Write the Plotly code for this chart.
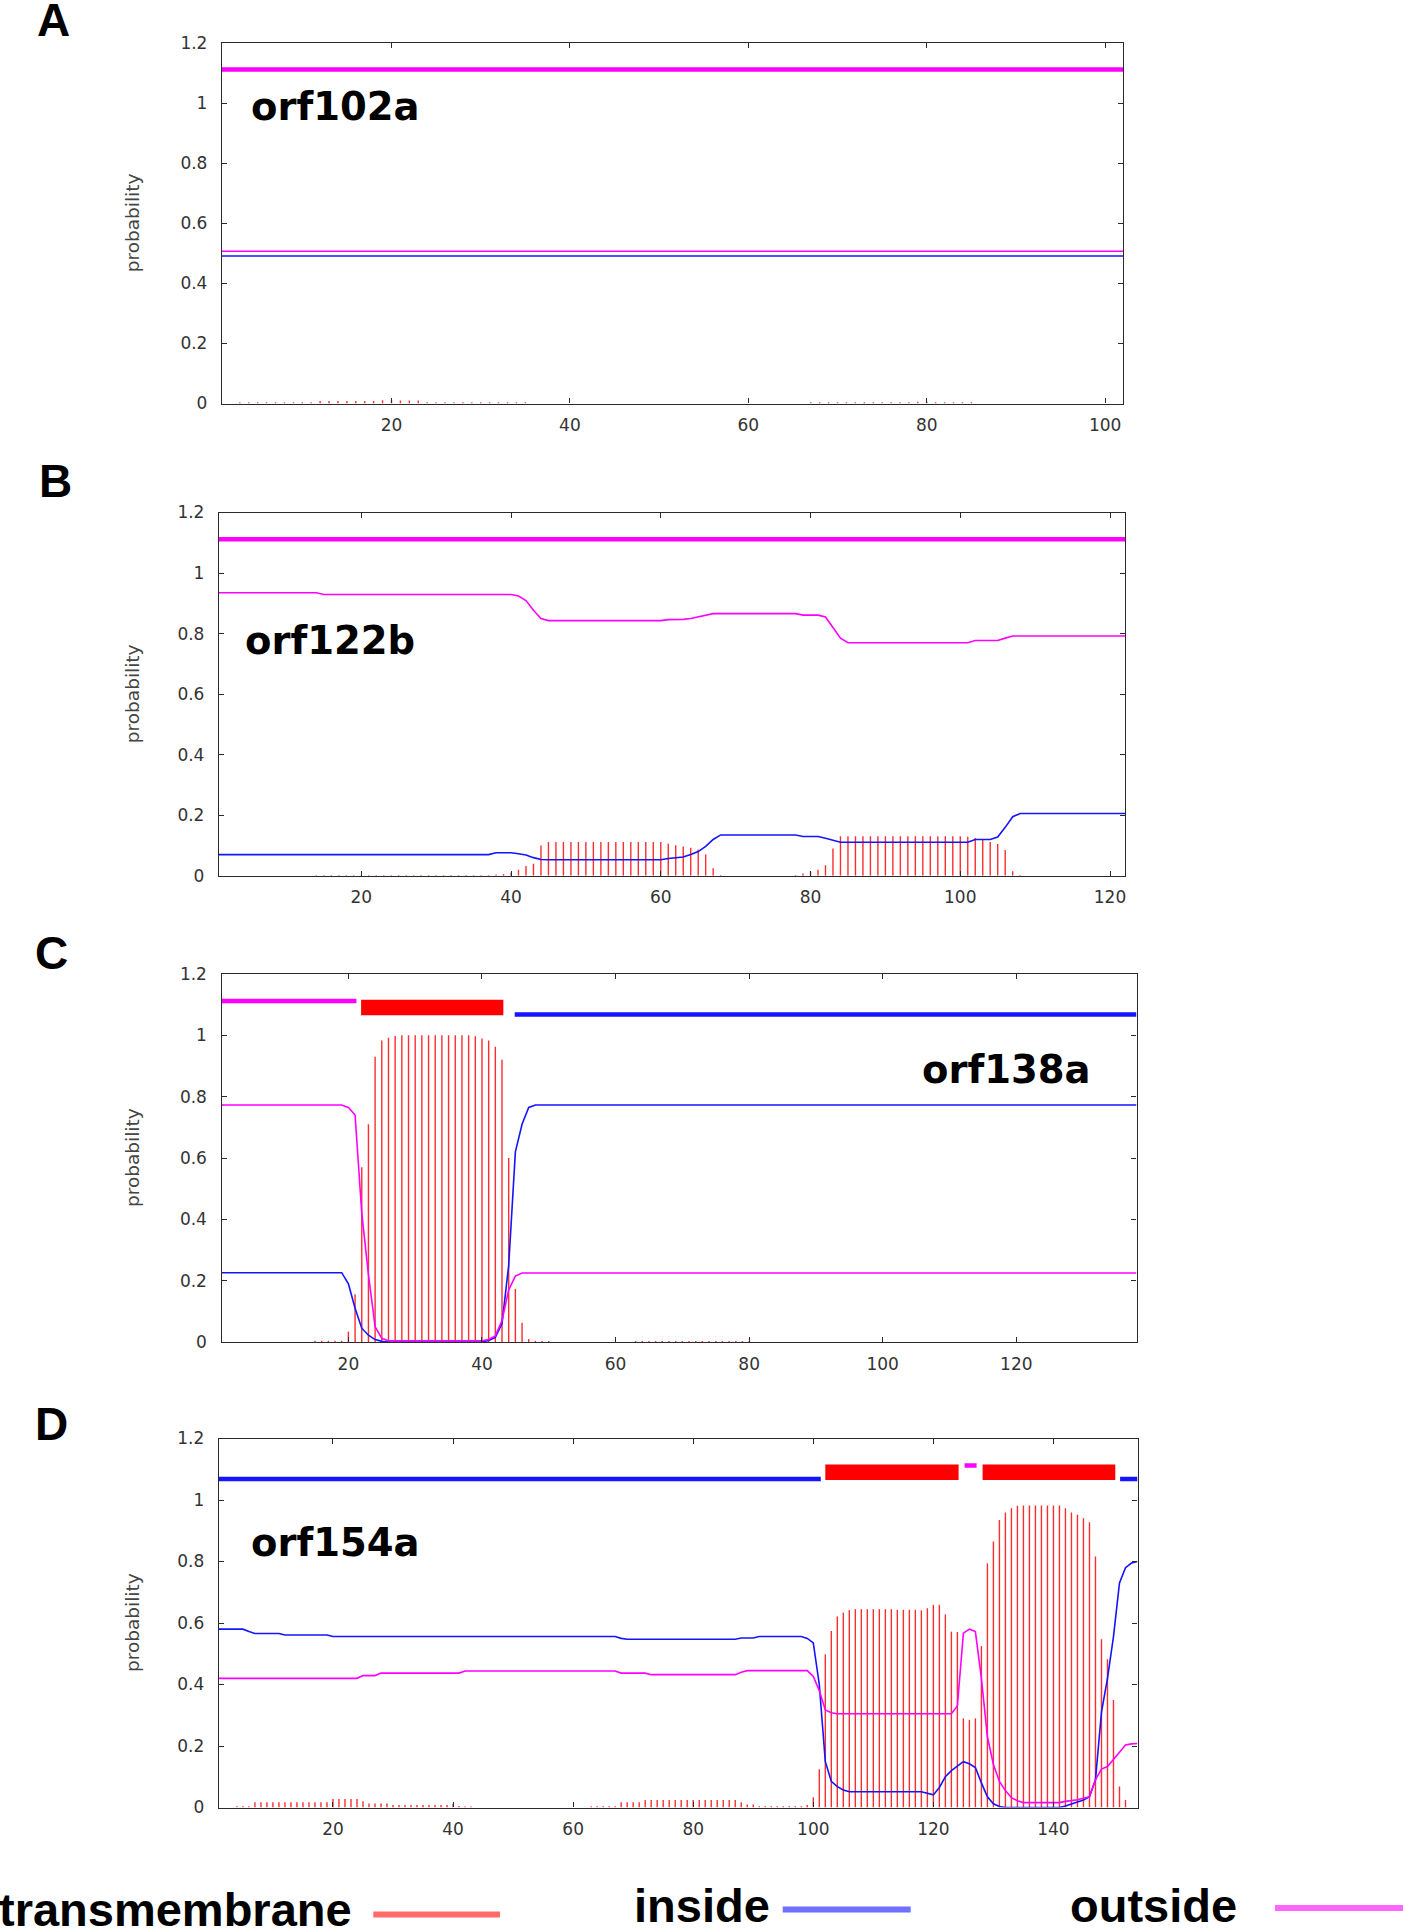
import plotly.graph_objects as go

# ======================= DATA =======================
# Panel A : orf102a
A_length = 102
A_tm = [0, 0, .004, .004, .004, .004, .004, .004, .004, .004,
        .004, .008, .008, .008, .008, .008, .008, .008, .011, .012,
        .010, .010, .010, .004, .004, .004, .004, .004, .004, .004,
        .004, .004, .004, .004, .004, 0, 0, 0, 0, 0,
        0, 0, 0, 0, 0, 0, 0, 0, 0, 0,
        0, 0, 0, 0, 0, 0, 0, 0, 0, 0,
        0, 0, 0, 0, 0, 0, .004, .004, .004, .004,
        .004, .004, .004, .004, .004, .004, .004, .004, .006, .007,
        .004, .004, .004, .004, .004, 0, 0, 0, 0, 0,
        0, 0, 0, 0, 0, 0, 0, 0, 0, 0,
        0, 0]
A_in_x = [1, 102]
A_in_y = [0.491, 0.491]
A_out_x = [1, 102]
A_out_y = [0.507, 0.507]
A_seg_start = [1]
A_seg_end = [102]
A_seg_kind = ["outside"]

# Panel B : orf122b
B_length = 122
B_tm = [0, 0, 0, 0, 0, 0, 0, 0, 0, 0,
        0, 0, 0, .003, .003, .003, .003, .003, .003, .003,
        .003, .003, .003, .003, .003, .003, .003, .003, .003, .003,
        .003, .003, .003, .003, .003, .003, .003, .004, .006, .010,
        .020, .032, .040, .100, .112, .112, .112, .112, .112, .112,
        .112, .112, .112, .112, .112, .112, .112, .112, .112, .112,
        .106, .101, .097, .093, .086, .070, .025, .003, 0, 0,
        0, 0, 0, 0, 0, 0, 0, .003, .008, .014,
        .020, .035, .090, .131, .131, .131, .131, .131, .131, .131,
        .131, .131, .131, .131, .131, .131, .131, .131, .131, .131,
        .129, .125, .118, .112, .105, .085, .015, .003, 0, 0,
        0, 0, 0, 0, 0, 0, 0, 0, 0, 0,
        0, 0]
B_out_x = [1, 14, 15, 40, 41, 42, 43, 44, 45, 60, 61, 63, 64, 65, 66, 67, 78, 79, 81,
           82, 83, 84, 85, 101, 102, 105, 106, 107, 122]
B_out_y = [0.935, 0.935, 0.929, 0.929, 0.924, 0.909, 0.877, 0.85, 0.843, 0.843, 0.846,
           0.847, 0.85, 0.856, 0.862, 0.866, 0.866, 0.861, 0.861, 0.855, 0.82, 0.785,
           0.77, 0.77, 0.777, 0.777, 0.785, 0.792, 0.792]
B_in_x = [1, 37, 38, 40, 41, 42, 43, 44, 45, 60, 61, 63, 64, 65, 66, 67, 68, 78, 79, 81,
          82, 83, 84, 101, 102, 104, 105, 106, 107, 108, 122]
B_in_y = [0.070, 0.070, 0.076, 0.076, 0.073, 0.069, 0.06, 0.054, 0.053, 0.053, 0.057,
          0.062, 0.07, 0.08, 0.097, 0.12, 0.135, 0.135, 0.13, 0.13, 0.124, 0.117, 0.111,
          0.111, 0.12, 0.12, 0.128, 0.16, 0.195, 0.206, 0.206]
B_seg_start = [1]
B_seg_end = [122]
B_seg_kind = ["outside"]

# Panel C : orf138a
C_length = 138
C_tm = [0, 0, 0, 0, 0, 0, 0, 0, 0, 0,
        0, 0, 0, 0, .004, .004, .004, .004, .004, .034,
        .156, .570, .710, .930, .983, .992, .998, 1.0, 1.0, 1.0,
        1.0, 1.0, 1.0, 1.0, 1.0, 1.0, 1.0, 1.0, .997, .990,
        .983, .963, .920, .600, .173, .063, .010, .004, .003, .003,
        0, 0, 0, 0, 0, 0, 0, 0, 0, 0,
        0, 0, .003, .003, .003, .003, .003, .003, .003, .003,
        .003, .003, .003, .003, .003, .003, .003, .003, .003, .003,
        0, 0, 0, 0, 0, 0, 0, 0, 0, 0,
        0, 0, 0, 0, 0, 0, 0, 0, 0, 0,
        0, 0, 0, 0, 0, 0, 0, 0, 0, 0,
        0, 0, 0, 0, 0, 0, 0, 0, 0, 0,
        0, 0, 0, 0, 0, 0, 0, 0, 0, 0,
        0, 0, 0, 0, 0, 0, 0, 0]
C_out_x = [1, 19, 20, 21, 22, 23, 24, 25, 26, 40, 41, 42, 43, 44, 45, 46, 138]
C_out_y = [0.773, 0.773, 0.765, 0.74, 0.42, 0.22, 0.05, 0.012, 0.004, 0.004, 0.008,
           0.02, 0.07, 0.17, 0.215, 0.225, 0.225]
C_in_x = [1, 19, 20, 21, 22, 23, 24, 25, 26, 40, 41, 42, 43, 44, 45, 46, 47, 48, 138]
C_in_y = [0.226, 0.226, 0.19, 0.11, 0.045, 0.022, 0.008, 0.002, 0.0, 0.0, 0.005, 0.015,
          0.06, 0.25, 0.62, 0.71, 0.765, 0.773, 0.773]
C_seg_start = [1, 21.9, 44.9]
C_seg_end = [21.2, 43.2, 138]
C_seg_kind = ["outside", "TM", "inside"]

# Panel D : orf154a
D_length = 154
D_tm = [0, 0, 0, .004, .004, .004, .017, .017, .017, .017,
        .017, .017, .017, .017, .017, .017, .017, .017, .017, .028,
        .028, .028, .028, .028, .020, .013, .013, .013, .013, .008,
        .008, .008, .008, .008, .008, .008, .008, .008, .008, .012,
        .005, .003, .003, 0, 0, 0, 0, 0, 0, 0,
        0, 0, 0, 0, 0, 0, 0, 0, 0, 0,
        0, 0, .004, .004, .004, .004, .004, .017, .017, .017,
        .017, .024, .024, .024, .024, .024, .024, .024, .024, .024,
        .024, .024, .024, .024, .024, .024, .024, .017, .010, .010,
        .004, .004, .004, .004, .004, .004, .004, .004, .008, .033,
        .124, .498, .574, .621, .634, .642, .645, .645, .645, .645,
        .645, .645, .645, .643, .643, .643, .643, .641, .648, .659,
        .659, .628, .572, .571, .290, .285, .290, .525, .794, .865,
        .935, .959, .973, .981, .982, .982, .982, .982, .982, .982,
        .982, .973, .959, .952, .941, .928, .816, .547, .482, .350,
        .068, .024, 0, 0]
D_in_x = [1, 5, 6, 7, 11, 12, 19, 20, 67, 68, 69, 87, 88, 90, 91, 98, 99, 100, 101, 102,
          103, 104, 105, 106, 118, 119, 120, 121, 122, 123, 124, 125, 126, 127, 128, 129,
          130, 131, 132, 141, 142, 143, 144, 145, 146, 147, 148, 149, 150, 151, 152, 153,
          154]
D_in_y = [0.580, 0.580, 0.572, 0.566, 0.566, 0.561, 0.561, 0.556, 0.556, 0.55, 0.547,
          0.547, 0.551, 0.551, 0.556, 0.556, 0.55, 0.535, 0.40, 0.15, 0.085, 0.068, 0.057,
          0.051, 0.051, 0.045, 0.041, 0.065, 0.1, 0.12, 0.135, 0.149, 0.142, 0.13, 0.08,
          0.035, 0.012, 0.003, 0.0, 0.0, 0.005, 0.012, 0.018, 0.024, 0.035, 0.09, 0.31,
          0.42, 0.556, 0.73, 0.78, 0.795, 0.80]
D_out_x = [1, 24, 25, 27, 28, 41, 42, 67, 68, 72, 73, 87, 88, 89, 99, 100, 101, 102, 103,
           104, 123, 124, 125, 126, 127, 128, 129, 130, 131, 132, 133, 134, 135, 141, 142,
           144, 145, 146, 147, 148, 149, 150, 151, 152, 153, 154]
D_out_y = [0.420, 0.420, 0.429, 0.429, 0.437, 0.437, 0.444, 0.444, 0.437, 0.437, 0.432,
           0.432, 0.44, 0.445, 0.445, 0.426, 0.38, 0.317, 0.308, 0.305, 0.305, 0.33,
           0.567, 0.58, 0.572, 0.42, 0.23, 0.14, 0.085, 0.055, 0.032, 0.022, 0.016, 0.016,
           0.02, 0.025, 0.03, 0.035, 0.09, 0.125, 0.133, 0.155, 0.18, 0.203, 0.207, 0.208]
D_seg_start = [1, 102.0, 125.2, 128.2, 151.1]
D_seg_end = [101.25, 124.2, 127.2, 150.3, 154]
D_seg_kind = ["inside", "TM", "outside", "TM", "inside"]

panel_letters = ["A", "B", "C", "D"]
orf_names = ["orf102a", "orf122b", "orf138a", "orf154a"]
y_tick_vals = [0, 0.2, 0.4, 0.6, 0.8, 1.0, 1.2]
y_tick_text = ["0", "0.2", "0.4", "0.6", "0.8", "1", "1.2"]
x_tick_vals = [[20, 40, 60, 80, 100],
               [20, 40, 60, 80, 100, 120],
               [20, 40, 60, 80, 100, 120],
               [20, 40, 60, 80, 100, 120, 140]]
legend_labels = ["transmembrane", "inside", "outside"]

# ======================= STYLE / LAYOUT =======================
W, H = 1403, 1928


def px(x):
    return x / W


def py(y):
    return 1 - y / H


# plot boxes in pixels: left, right, top, bottom
boxes = [(222, 1123, 43, 403.5),
         (219, 1125, 512.5, 875.8),
         (221.5, 1136.5, 974, 1342),
         (218.9, 1137.5, 1438.5, 1807.5)]

C_TM = "rgb(255,45,45)"
C_IN = "rgb(20,20,255)"
C_OUT = "rgb(255,0,255)"
seg_level = {"outside": 1.112, "inside": 1.068, "TM": 1.0905}
seg_color = {"outside": C_OUT, "inside": C_IN, "TM": "rgb(255,0,0)"}
seg_width = {"outside": 4.5, "inside": 4.5, "TM": 15.5}

panels = [
    dict(L=A_length, tm=A_tm, ix=A_in_x, iy=A_in_y, ox=A_out_x, oy=A_out_y,
         ss=A_seg_start, se=A_seg_end, sk=A_seg_kind),
    dict(L=B_length, tm=B_tm, ix=B_in_x, iy=B_in_y, ox=B_out_x, oy=B_out_y,
         ss=B_seg_start, se=B_seg_end, sk=B_seg_kind),
    dict(L=C_length, tm=C_tm, ix=C_in_x, iy=C_in_y, ox=C_out_x, oy=C_out_y,
         ss=C_seg_start, se=C_seg_end, sk=C_seg_kind),
    dict(L=D_length, tm=D_tm, ix=D_in_x, iy=D_in_y, ox=D_out_x, oy=D_out_y,
         ss=D_seg_start, se=D_seg_end, sk=D_seg_kind),
]

fig = go.Figure()
layout_axes = {}
tick_font = dict(family="DejaVu Sans", size=17, color="#333333")
frame = "#2a2a2a"

for i, p in enumerate(panels):
    n = i + 1
    xa = "x" if n == 1 else f"x{n}"
    ya = "y" if n == 1 else f"y{n}"
    # transmembrane impulses
    imp_x, imp_y = [], []
    for r, v in zip(range(1, p["L"] + 1), p["tm"]):
        if v > 0:
            imp_x += [r, r, None]
            imp_y += [0, v, None]
    fig.add_trace(go.Scatter(x=imp_x, y=imp_y, mode="lines", xaxis=xa, yaxis=ya,
                             line=dict(color=C_TM, width=1.4), showlegend=False,
                             hoverinfo="skip"))
    fig.add_trace(go.Scatter(x=p["ix"], y=p["iy"], mode="lines", xaxis=xa, yaxis=ya,
                             line=dict(color=C_IN, width=1.6), showlegend=False))
    fig.add_trace(go.Scatter(x=p["ox"], y=p["oy"], mode="lines", xaxis=xa, yaxis=ya,
                             line=dict(color=C_OUT, width=1.6), showlegend=False))
    for s, e, k in zip(p["ss"], p["se"], p["sk"]):
        fig.add_trace(go.Scatter(x=[s, e], y=[seg_level[k], seg_level[k]], mode="lines",
                                 xaxis=xa, yaxis=ya, showlegend=False,
                                 line=dict(color=seg_color[k], width=seg_width[k])))

    l, r_, t, b = boxes[i]
    axname_x = "xaxis" if n == 1 else f"xaxis{n}"
    axname_y = "yaxis" if n == 1 else f"yaxis{n}"
    layout_axes[axname_x] = dict(
        domain=[px(l), px(r_)], range=[1, p["L"]], anchor=ya, automargin=False,
        showline=True, linecolor=frame, linewidth=1.3, mirror="ticks",
        ticks="inside", ticklen=5, tickwidth=1, tickcolor=frame,
        tickvals=x_tick_vals[i], ticktext=[str(v) for v in x_tick_vals[i]],
        tickfont=tick_font, showgrid=False, zeroline=False, ticklabelstandoff=6)
    layout_axes[axname_y] = dict(
        domain=[py(b), py(t)], range=[0, 1.2], anchor=xa, automargin=False,
        showline=True, linecolor=frame, linewidth=1.3, mirror="ticks",
        ticks="inside", ticklen=5, tickwidth=1, tickcolor=frame,
        tickvals=y_tick_vals, ticktext=y_tick_text,
        tickfont=tick_font, showgrid=False, zeroline=False, ticklabelstandoff=10)

annotations = []
letter_pos = [(34.5, 20), (37, 481), (33, 953), (33, 1424)]
orf_pos = [(249, 106), (243, 641), (920, 1069), (249, 1542)]
for i in range(4):
    l, r_, t, b = boxes[i]
    annotations.append(dict(text=panel_letters[i], xref="paper", yref="paper",
                            x=px(letter_pos[i][0]), y=py(letter_pos[i][1]),
                            xanchor="left", yanchor="middle", showarrow=False,
                            font=dict(family="Liberation Sans, Arial", size=46,
                                      color="black", weight="bold")))
    annotations.append(dict(text=orf_names[i], xref="paper", yref="paper",
                            x=px(orf_pos[i][0]), y=py(orf_pos[i][1]),
                            xanchor="left", yanchor="middle", showarrow=False,
                            font=dict(family="DejaVu Sans", size=38.5,
                                      color="black", weight="bold")))
    annotations.append(dict(text="probability", xref="paper", yref="paper",
                            x=px(132), y=py((t + b) / 2), textangle=-90,
                            xanchor="center", yanchor="middle", showarrow=False,
                            font=dict(family="DejaVu Sans", size=18.5, color="#444444")))

legend_text_pos = [(-3, 1909.5), (632, 1905.5), (1068, 1905.5)]
for lab, (lx, ly) in zip(legend_labels, legend_text_pos):
    annotations.append(dict(text=lab, xref="paper", yref="paper", x=px(lx), y=py(ly),
                            xanchor="left", yanchor="middle", showarrow=False,
                            font=dict(family="Liberation Sans, Arial", size=47,
                                      color="black", weight="bold")))

legend_swatches = [(373.3, 500, 1914.5, "#ff6b6b"),
                   (782.7, 910.7, 1909.5, "#7070ff"),
                   (1275, 1403, 1908, "#ff66ff")]
shapes = []
for x0, x1, yy, col in legend_swatches:
    shapes.append(dict(type="line", xref="paper", yref="paper", x0=px(x0), x1=px(x1),
                       y0=py(yy), y1=py(yy), line=dict(color=col, width=6)))

fig.update_layout(width=W, height=H,
                  margin=dict(l=0, r=0, t=0, b=0, pad=0, autoexpand=False),
                  paper_bgcolor="white", plot_bgcolor="white", showlegend=False,
                  annotations=annotations, shapes=shapes, **layout_axes)

fig.write_html("out.html",
               config={"displayModeBar": False},
               post_script="document.body.style.margin='0px';"
                           "document.body.style.padding='0px';"
                           "document.body.style.overflow='hidden';")
